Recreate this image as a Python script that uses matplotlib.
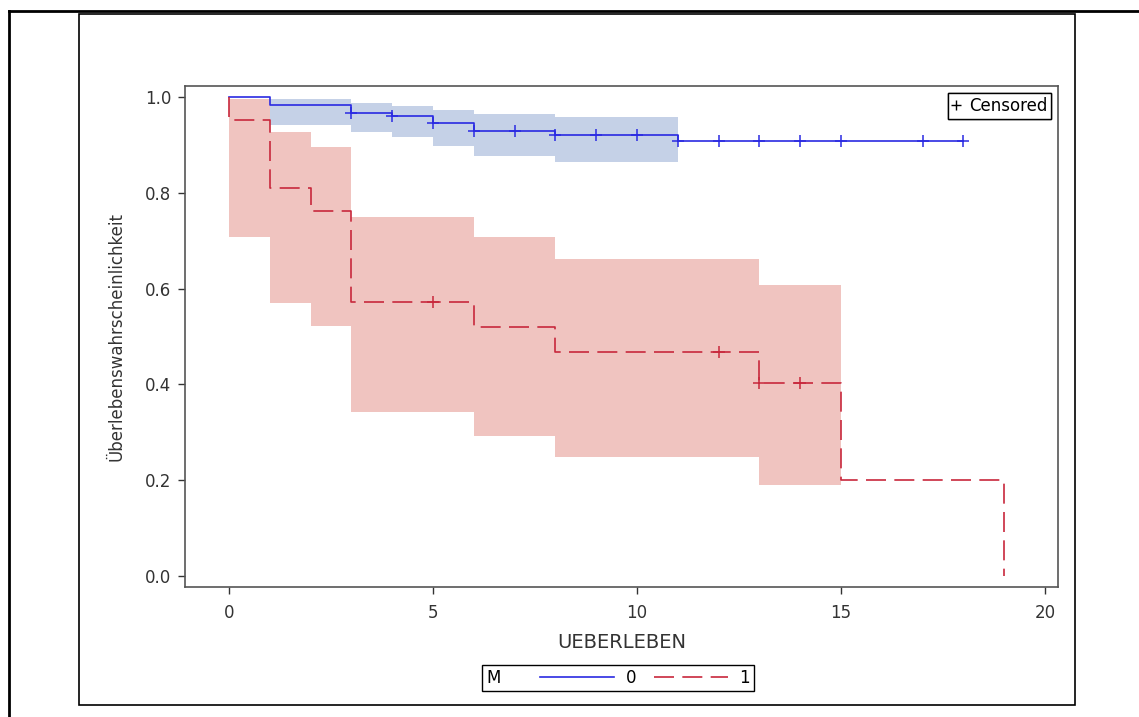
import matplotlib
matplotlib.use("Agg")
import matplotlib.pyplot as plt
from matplotlib.lines import Line2D
from matplotlib.patches import Rectangle
from matplotlib.offsetbox import HPacker

plt.rcParams['font.family'] = ['DejaVu Sans']

# group M=0 (Kaplan-Meier step values)
t0 = [0, 1, 3, 4, 5, 6, 8, 11, 18]
s0 = [1.0, 0.983, 0.966, 0.960, 0.945, 0.930, 0.921, 0.908, 0.908]
cens_t0 = [3, 4, 5, 6, 7, 8, 9, 10, 11, 12, 13, 14, 15, 17, 18]
cens_s0 = [0.966, 0.960, 0.945, 0.930, 0.930, 0.921, 0.921, 0.921, 0.908,
           0.908, 0.908, 0.908, 0.908, 0.908, 0.908]
band_t0 = [1, 3, 4, 5, 6, 8, 11]
lo0 = [0.941, 0.926, 0.916, 0.898, 0.877, 0.865, 0.865]
hi0 = [0.995, 0.988, 0.982, 0.973, 0.964, 0.958, 0.958]

# group M=1
t1 = [0, 0, 1, 2, 3, 6, 8, 13, 15, 19]
s1 = [1.0, 0.951, 0.809, 0.762, 0.571, 0.520, 0.468, 0.402, 0.200, 0.0]
cens_t1 = [5, 12, 13, 14]
cens_s1 = [0.571, 0.468, 0.402, 0.402]
band_t1 = [0, 1, 2, 3, 6, 8, 13, 15]
lo1 = [0.708, 0.569, 0.522, 0.342, 0.292, 0.248, 0.190, 0.190]
hi1 = [0.995, 0.926, 0.895, 0.750, 0.708, 0.662, 0.608, 0.608]

blue = '#2a2ae2'
red = '#c8283c'
blue_band = '#c5d1e7'
red_band = '#f0c4c0'
W, H = 1139, 717

fig = plt.figure(figsize=(W / 100, H / 100), dpi=100)
ax = fig.add_axes([185 / W, 1 - 587 / H, (1058 - 185) / W, (587 - 86) / H])

ax.fill_between(band_t0, lo0, hi0, step='post', color=blue_band, lw=0)
ax.fill_between(band_t1, lo1, hi1, step='post', color=red_band, lw=0)

h0, = ax.step(t0, s0, where='post', color=blue, lw=1.2)
h1, = ax.step(t1, s1, where='post', color=red, lw=1.2, dashes=(12, 5))
ax.plot(cens_t0, cens_s0, ls='none', marker='+', ms=9, mew=1.1, color=blue)
ax.plot(cens_t1, cens_s1, ls='none', marker='+', ms=9, mew=1.1, color=red)

ax.set_xlim(-1.08, 20.32)
ax.set_ylim(-0.023, 1.023)
ax.set_xticks([0, 5, 10, 15, 20])
ax.set_yticks([0.0, 0.2, 0.4, 0.6, 0.8, 1.0])
ax.set_yticklabels(['0.0', '0.2', '0.4', '0.6', '0.8', '1.0'])
ax.tick_params(length=5, width=1, color='#333333', labelsize=12, labelcolor='#333333', pad=5)
ax.tick_params(axis='x', pad=7)
for sp in ax.spines.values():
    sp.set_color('#555555')
    sp.set_linewidth(1.2)
ax.set_xlabel('UEBERLEBEN', fontsize=14, color='#333333', labelpad=8)
ax.set_ylabel('Überlebenswahrscheinlichkeit', fontsize=12, color='#333333', labelpad=14)

# censored legend
cl = ax.legend(handles=[Line2D([], [], ls='none', marker='+', ms=7, mew=1.0, color='black')],
               labels=['Censored'], loc='upper right', fancybox=False, edgecolor='black',
               fontsize=12, handlelength=0.5, handletextpad=0.5, borderpad=0.25,
               borderaxespad=0.4, framealpha=1)
cl.get_frame().set_linewidth(1.0)
ax.add_artist(cl)

# group legend at bottom, title "M" placed to the left of the entries
fs = 12
leg = fig.legend(handles=[h0, h1], labels=['0', '1'], title='M', ncol=2, loc='center',
                 bbox_to_anchor=(618 / W, 1 - 678 / H), fancybox=False, edgecolor='black',
                 fontsize=fs, title_fontsize=fs, handlelength=4.4, handletextpad=0.7,
                 columnspacing=1.1, borderpad=0.25, framealpha=1)
leg.get_frame().set_linewidth(1.0)
box = HPacker(pad=leg.borderpad * fs, sep=2.4 * fs, align='center',
              children=[leg._legend_title_box, leg._legend_handle_box])
box.set_figure(fig)
box.set_offset(leg._findoffset)
leg._legend_box = box

# page frames
fig.add_artist(Line2D([9 / W, 9 / W], [0, 1 - 11 / H], transform=fig.transFigure, color='black', lw=2))
fig.add_artist(Line2D([9 / W, 1], [1 - 11 / H, 1 - 11 / H], transform=fig.transFigure, color='black', lw=2))
fig.add_artist(Rectangle((79 / W, 1 - 705 / H), (1075 - 79) / W, (705 - 14) / H, fill=False,
                         lw=1.2, edgecolor='black', transform=fig.transFigure))

fig.savefig('out.png', dpi=100)
